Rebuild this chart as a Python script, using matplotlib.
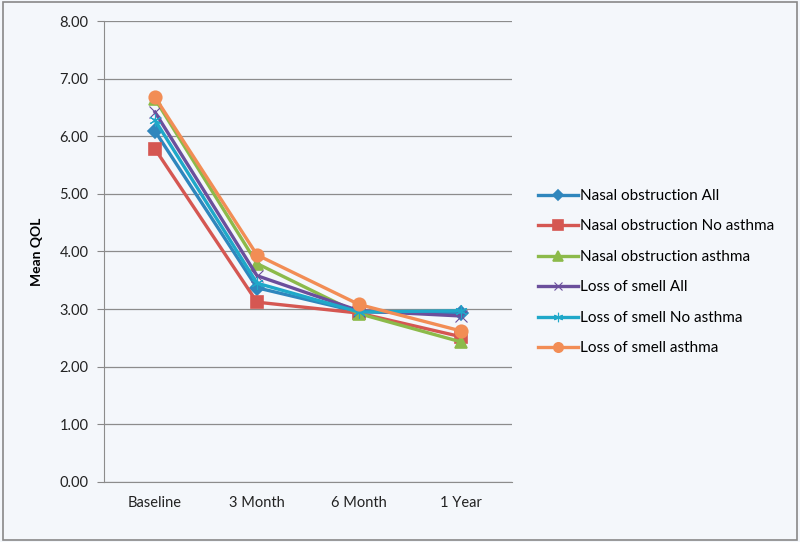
import matplotlib
matplotlib.use("Agg")
from matplotlib import pyplot as plt
from matplotlib.patches import Rectangle

categories = ["Baseline", "3 Month", "6 Month", "1 Year"]

nasal_all = [6.09, 3.37, 2.95, 2.94]
nasal_no_asthma = [5.78, 3.12, 2.93, 2.52]
nasal_asthma = [6.65, 3.79, 2.92, 2.43]
smell_all = [6.42, 3.58, 2.97, 2.88]
smell_no_asthma = [6.28, 3.45, 2.95, 2.97]
smell_asthma = [6.68, 3.94, 3.08, 2.62]

series = [
    ("Nasal obstruction All", nasal_all, "#2f86bd", "D", 7, 1.2),
    ("Nasal obstruction No asthma", nasal_no_asthma, "#d55752", "s", 9, 1.2),
    ("Nasal obstruction asthma", nasal_asthma, "#8cba4a", "^", 9, 1.2),
    ("Loss of smell All", smell_all, "#6b4f9c", "x", 8, 0.8),
    ("Loss of smell No asthma", smell_no_asthma, "#1fa8c9", (6, 2, 0), 9, 0.8),
    ("Loss of smell asthma", smell_asthma, "#f28d55", "o", 9, 1.2),
]

plt.rcParams['font.family'] = ['Lato', 'DejaVu Sans']

bg = "#f4f7fb"
fig = plt.figure(figsize=(8, 5.42), dpi=100, facecolor=bg)
ax = fig.add_axes([0.13, 0.111, 0.51, 0.85], facecolor=bg)

x = range(len(categories))
for name, vals, col, mk, ms, mew in series:
    ax.plot(x, vals, color=col, lw=2.4, marker=mk, markersize=ms,
            markeredgecolor=col, markerfacecolor=col, markeredgewidth=mew,
            label=name)

ax.set_xlim(-0.5, len(categories) - 0.5)
ax.set_ylim(0, 8)
ax.set_yticks(range(0, 9))
ax.set_yticklabels(["%.2f" % v for v in range(0, 9)])
ax.set_xticks(list(x))
ax.set_xticklabels(categories)
ax.tick_params(axis="x", length=0, pad=10, labelsize=10.5, colors="#222222")
ax.tick_params(axis="y", length=5, color="#888888", labelsize=10.5, colors="#222222", pad=6)
ax.set_ylabel("Mean QOL", fontsize=10, fontweight="bold", labelpad=12)

ax.grid(axis="y", color="#8c8c8c", lw=0.9)
ax.set_axisbelow(True)
for s in ["top", "right"]:
    ax.spines[s].set_visible(False)
ax.spines["left"].set_color("#8c8c8c")
ax.spines["bottom"].set_color("#8c8c8c")

ax.legend(loc="center left", bbox_to_anchor=(1.03, 0.455), frameon=False,
          fontsize=11, handlelength=2.6, labelspacing=1.08, handletextpad=0.15,
          markerscale=0.75)

fig.patches.append(Rectangle((0.004, 0.004), 0.992, 0.992, transform=fig.transFigure,
                             fill=False, edgecolor="#888888", lw=1.2))

fig.savefig("out.png", dpi=100, facecolor=bg)
